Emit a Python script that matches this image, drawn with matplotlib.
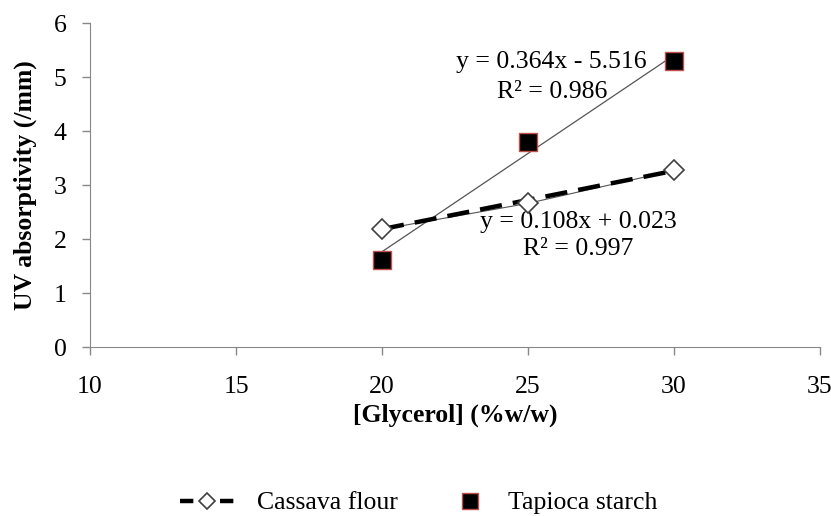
import matplotlib.pyplot as plt
from matplotlib.lines import Line2D

# Data
glycerol = [20, 25, 30]
cassava = [2.18, 2.66, 3.27]
tapioca = [1.62, 3.80, 5.30]

# Trendline equations as printed on the chart
trend_x = [20, 30]
cassava_fit = (0.108, 0.023)
tapioca_fit = (0.364, -5.516)

x_ticks = [10, 15, 20, 25, 30, 35]
y_ticks = [0, 1, 2, 3, 4, 5, 6]

plt.rcParams['font.family'] = ['Liberation Serif', 'DejaVu Serif']
fs = 18.5

fig = plt.figure(figsize=(8.31, 5.16), dpi=100)
ax = fig.add_axes([90 / 831, 1 - 347 / 516, 730 / 831, 324 / 516])

axis_grey = '#888888'

# Cassava flour: thin connecting line, thick dashed trendline, open diamonds
ax.plot(glycerol, cassava, color='#555555', lw=0.8, zorder=2)
ax.plot(trend_x, [cassava_fit[0] * x + cassava_fit[1] for x in trend_x],
        color='black', lw=3.2, dashes=(5, 2.5), zorder=3)
ax.plot(glycerol, cassava, ls='none', marker='D', ms=10, mfc='white',
        mec='#404040', mew=1.2, zorder=4)

# Tapioca starch: thin trendline, black squares with red edge
ax.plot(trend_x, [tapioca_fit[0] * x + tapioca_fit[1] for x in trend_x],
        color='#555555', lw=0.9, zorder=2)
ax.plot(glycerol, tapioca, ls='none', marker='s', ms=13, mfc='black',
        mec='#c0504d', mew=1.0, zorder=4)

# Trendline equations
ax.text(25.79, 5.28, 'y = 0.364x - 5.516', ha='center', va='center', fontsize=fs)
ax.text(25.82, 4.72, 'R² = 0.986', ha='center', va='center', fontsize=fs)
ax.text(26.71, 2.31, 'y = 0.108x + 0.023', ha='center', va='center', fontsize=fs)
ax.text(26.71, 1.81, 'R² = 0.997', ha='center', va='center', fontsize=fs)

ax.set_xlim(10, 35)
ax.set_ylim(0, 6)
ax.set_xticks(x_ticks)
ax.set_yticks(y_ticks)

for side in ['top', 'right']:
    ax.spines[side].set_visible(False)
for side in ['left', 'bottom']:
    ax.spines[side].set_color(axis_grey)
ax.tick_params(colors=axis_grey, labelcolor='black', length=6, width=1,
               labelsize=fs, direction='out')
ax.tick_params(axis='x', pad=15)
ax.tick_params(axis='y', pad=11)

ax.set_xlabel('[Glycerol] (%w/w)', fontsize=fs, fontweight='bold', labelpad=4)
ax.set_ylabel('UV absorptivity (/mm)', fontsize=fs, fontweight='bold', labelpad=12)

# Two separate legend entries so each handle gets its own width
cassava_handle = Line2D([], [], color='black', lw=3.2, dashes=(3, 1.5),
                        marker='D', ms=8, mfc='white', mec='#404040', mew=1.2)
tapioca_handle = Line2D([], [], ls='none', marker='s', ms=11, mfc='black',
                        mec='#c0504d', mew=1.0)
leg_y = 1 - 503 / 516
leg1 = fig.legend([cassava_handle], ['Cassava flour'], loc='center left',
                  bbox_to_anchor=(180 / 831, leg_y), frameon=False, fontsize=fs,
                  handlelength=2.1, handletextpad=0.9, borderpad=0,
                  borderaxespad=0)
fig.legend([tapioca_handle], ['Tapioca starch'], loc='center left',
           bbox_to_anchor=(457 / 831, leg_y), frameon=False, fontsize=fs,
           handlelength=1.0, handletextpad=1.0, borderpad=0, borderaxespad=0)

fig.savefig('out.png', dpi=100)
